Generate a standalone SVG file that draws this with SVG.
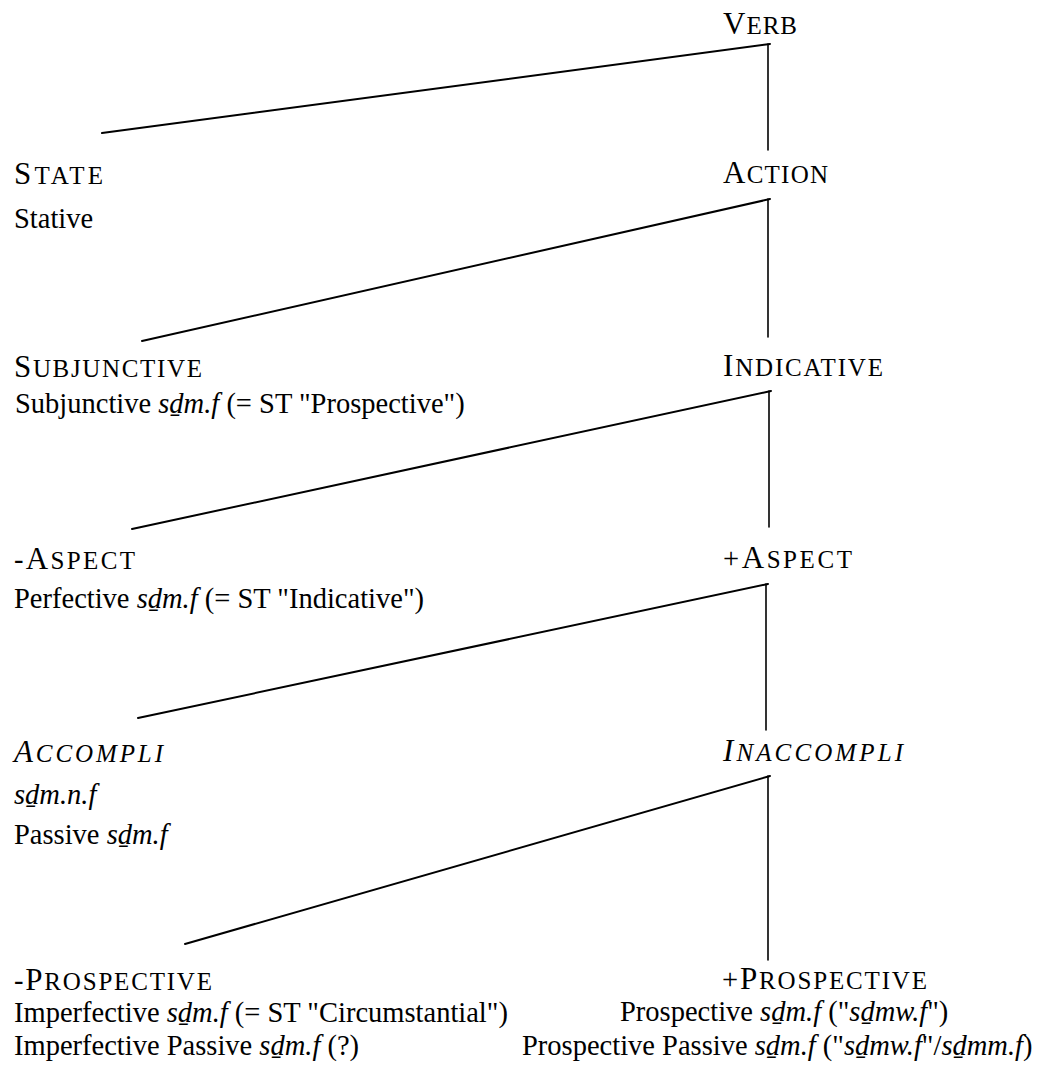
<svg xmlns="http://www.w3.org/2000/svg" width="1045" height="1092" viewBox="0 0 1045 1092">
<style>
.t { font-family: "Liberation Serif", "Times New Roman", "DejaVu Serif", serif; fill: #000; }
.b { font-size: 28.5px; }
.hb { font-size: 31px; }
.hs { font-size: 25px; }
.i { font-style: italic; }
.ln { stroke: #000; stroke-width: 2; fill: none; stroke-linecap: round; }
.v { stroke-width: 1.6; }
</style>
<rect width="1045" height="1092" fill="#fff"/>
<g id="connectors">
  <line class="ln" x1="102" y1="133" x2="770" y2="44"/>
  <line class="ln v" x1="768" y1="44" x2="768" y2="150"/>
  <line class="ln" x1="142" y1="341" x2="770" y2="199"/>
  <line class="ln v" x1="768" y1="199" x2="768" y2="337"/>
  <line class="ln" x1="132" y1="529" x2="771" y2="391"/>
  <line class="ln v" x1="769" y1="391" x2="769" y2="527"/>
  <line class="ln" x1="138" y1="718" x2="768" y2="584"/>
  <line class="ln v" x1="766" y1="584" x2="766" y2="730"/>
  <line class="ln" x1="185" y1="944" x2="770" y2="776"/>
  <line class="ln v" x1="768" y1="776" x2="768" y2="960"/>
</g>
<g id="verb">
  <text class="t" x="723" y="34" textLength="74" lengthAdjust="spacing"><tspan class="hb">V</tspan><tspan class="hs">ERB</tspan></text>
</g>
<g id="state">
  <text class="t" x="14" y="184" textLength="89" lengthAdjust="spacing"><tspan class="hb">S</tspan><tspan class="hs">TATE</tspan></text>
  <text class="t b" x="14" y="228">Stative</text>
</g>
<g id="action">
  <text class="t" x="723" y="183" textLength="105" lengthAdjust="spacing"><tspan class="hb">A</tspan><tspan class="hs">CTION</tspan></text>
</g>
<g id="subjunctive">
  <text class="t" x="14" y="377" textLength="188" lengthAdjust="spacing"><tspan class="hb">S</tspan><tspan class="hs">UBJUNCTIVE</tspan></text>
  <text class="t b" x="15" y="413">Subjunctive <tspan class="i">s&#x1E0F;m.f</tspan> (= ST &quot;Prospective&quot;)</text>
</g>
<g id="indicative">
  <text class="t" x="723" y="376" textLength="160" lengthAdjust="spacing"><tspan class="hb">I</tspan><tspan class="hs">NDICATIVE</tspan></text>
</g>
<g id="minus-aspect">
  <text class="t" x="14" y="569" textLength="121" lengthAdjust="spacing"><tspan class="b">-</tspan><tspan class="hb">A</tspan><tspan class="hs">SPECT</tspan></text>
  <text class="t b" x="14" y="608">Perfective <tspan class="i">s&#x1E0F;m.f</tspan> (= ST &quot;Indicative&quot;)</text>
</g>
<g id="plus-aspect">
  <text class="t" x="723" y="568" textLength="129" lengthAdjust="spacing"><tspan class="b">+</tspan><tspan class="hb">A</tspan><tspan class="hs">SPECT</tspan></text>
</g>
<g id="accompli">
  <text class="t i" x="14" y="762" textLength="149" lengthAdjust="spacing"><tspan class="hb">A</tspan><tspan class="hs">CCOMPLI</tspan></text>
  <text class="t b i" x="14" y="804">s&#x1E0F;m.n.f</text>
  <text class="t b" x="14" y="844">Passive <tspan class="i">s&#x1E0F;m.f</tspan></text>
</g>
<g id="inaccompli">
  <text class="t i" x="723" y="761" textLength="180" lengthAdjust="spacing"><tspan class="hb">I</tspan><tspan class="hs">NACCOMPLI</tspan></text>
</g>
<g id="minus-prospective">
  <text class="t" x="14" y="990" textLength="198" lengthAdjust="spacing"><tspan class="b">-</tspan><tspan class="hb">P</tspan><tspan class="hs">ROSPECTIVE</tspan></text>
  <text class="t b" x="14" y="1022">Imperfective <tspan class="i">s&#x1E0F;m.f</tspan> (= ST &quot;Circumstantial&quot;)</text>
  <text class="t b" x="14" y="1055">Imperfective Passive <tspan class="i">s&#x1E0F;m.f</tspan> (?)</text>
</g>
<g id="plus-prospective">
  <text class="t" x="722" y="989" textLength="205" lengthAdjust="spacing"><tspan class="b">+</tspan><tspan class="hb">P</tspan><tspan class="hs">ROSPECTIVE</tspan></text>
  <text class="t b" x="620" y="1021">Prospective <tspan class="i">s&#x1E0F;m.f</tspan> (&quot;<tspan class="i">s&#x1E0F;mw.f</tspan>&quot;)</text>
  <text class="t b" x="522" y="1055">Prospective Passive <tspan class="i">s&#x1E0F;m.f</tspan> (&quot;<tspan class="i">s&#x1E0F;mw.f</tspan>&quot;/<tspan class="i">s&#x1E0F;mm.f</tspan>)</text>
</g>
</svg>
